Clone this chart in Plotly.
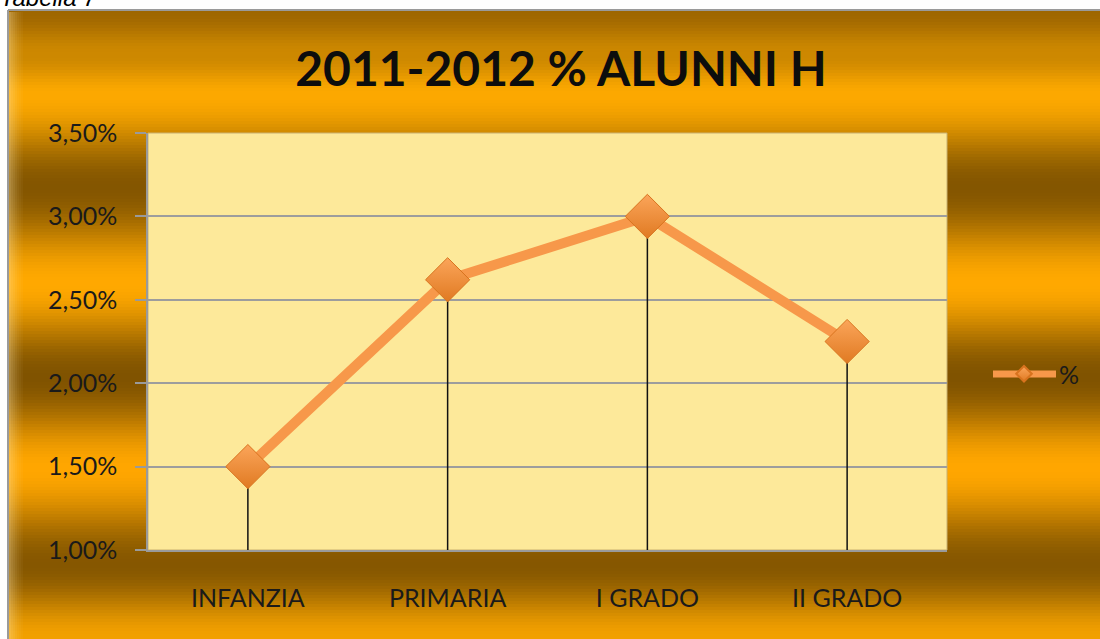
import math
import plotly.graph_objects as go

# ---- data ----
categories = ["INFANZIA", "PRIMARIA", "I GRADO", "II GRADO"]
values = [0.0150, 0.0262, 0.0300, 0.0225]
y_tick_vals = [0.010, 0.015, 0.020, 0.025, 0.030, 0.035]
series_name = "%"
title_text = "2011-2012 % ALUNNI H"
caption_text = "Tabella 7"
y_min, y_max = 0.010, 0.035

# ---- layout geometry (pixels) ----
W, H = 1100, 639
L, R, T, B = 148, 947, 133, 550


def px2x(px):
    return (px - L) / (R - L)


def px2y(py):
    return (B - py) / (B - T)


# background gradient stops (pixel y, rgb)
stops = [
    (10, (158, 102, 0)),
    (55, (205, 136, 0)),
    (95, (252, 168, 0)),
    (187, (132, 86, 0)),
    (283, (255, 168, 0)),
    (377, (128, 83, 0)),
    (468, (255, 166, 0)),
    (565, (134, 87, 0)),
    (639, (242, 160, 0)),
]


def grad_color(y):
    for (y0, c0), (y1, c1) in zip(stops[:-1], stops[1:]):
        if y0 <= y <= y1:
            t = (y - y0) / (y1 - y0)
            t = (1 - math.cos(math.pi * t)) / 2
            c = [round(a + (b - a) * t) for a, b in zip(c0, c1)]
            return "rgb(%d,%d,%d)" % tuple(c)
    return "rgb(%d,%d,%d)" % stops[-1][1]


shapes = []
FX0 = 8
step = 3
y = 10
while y < H:
    y2 = min(y + step, H)
    shapes.append(dict(type="rect", xref="paper", yref="paper",
                       x0=px2x(FX0), x1=px2x(W + 2), y0=px2y(y2 + 0.5), y1=px2y(y),
                       fillcolor=grad_color(y + step / 2), line=dict(width=0), layer="below"))
    y = y2

# left bevel highlight
for i, op in enumerate([0.35, 0.28, 0.22, 0.16, 0.11, 0.07, 0.04]):
    shapes.append(dict(type="rect", xref="paper", yref="paper",
                       x0=px2x(FX0 + 1 + 2 * i), x1=px2x(FX0 + 3 + 2 * i),
                       y0=px2y(H + 2), y1=px2y(12),
                       fillcolor="rgba(255,235,180,%.2f)" % op, line=dict(width=0), layer="below"))
# frame border
shapes.append(dict(type="line", xref="paper", yref="paper",
                   x0=px2x(FX0), x1=px2x(FX0), y0=px2y(H + 2), y1=px2y(10),
                   line=dict(color="#9a9a9a", width=2), layer="below"))
shapes.append(dict(type="line", xref="paper", yref="paper",
                   x0=px2x(FX0), x1=px2x(W + 2), y0=px2y(10), y1=px2y(10),
                   line=dict(color="#9a9a9a", width=2), layer="below"))
# plot area fill
shapes.append(dict(type="rect", xref="paper", yref="paper",
                   x0=0, x1=1, y0=0, y1=1,
                   fillcolor="#FDE99A", line=dict(color="#C8B070", width=1), layer="below"))
# legend line extension (legend swatch is short in plotly)
shapes.append(dict(type="line", xref="paper", yref="paper",
                   x0=px2x(993), x1=px2x(1056), y0=px2y(374), y1=px2y(374),
                   line=dict(color="#F7984A", width=7), layer="above"))

fig = go.Figure()
fig.add_trace(go.Scatter(
    x=categories, y=values, name=series_name, mode="lines+markers",
    line=dict(color="#F7984A", width=10),
    marker=dict(symbol="diamond", size=34, color="#FBA55A",
                gradient=dict(type="vertical", color="#E07A22"),
                line=dict(color="#D8731E", width=1)),
    error_y=dict(type="data", symmetric=False,
                 array=[0] * len(values),
                 arrayminus=[v - y_min for v in values],
                 color="#111111", thickness=1.5, width=0),
    cliponaxis=False,
))

fig.update_layout(
    width=W, height=H,
    margin=dict(l=L, r=W - R, t=T, b=H - B, pad=0),
    paper_bgcolor="white",
    plot_bgcolor="rgba(0,0,0,0)",
    separators=",.",
    shapes=shapes,
    showlegend=True,
    title=dict(text=title_text, x=561 / W, xref="container", xanchor="center",
               y=1 - 69 / H, yref="container", yanchor="middle",
               font=dict(family="Lato", size=48, color="#0d0d0d", weight=700)),
    legend=dict(x=px2x(989), xanchor="left", y=px2y(374), yanchor="middle",
                bgcolor="rgba(0,0,0,0)", borderwidth=0, itemwidth=60,
                font=dict(family="Lato", size=25, color="#1a1a1a"),
                itemsizing="constant"),
    xaxis=dict(type="category", range=[-0.5, len(categories) - 0.5],
               showgrid=False, zeroline=False, showline=True,
               linecolor="#9a9a9a", linewidth=1.5, ticks="",
               tickfont=dict(family="Lato", size=25, color="#1a1a1a"),
               ticklabelstandoff=25),
    yaxis=dict(range=[y_min, y_max], tickvals=y_tick_vals, tickformat=".2%",
               showgrid=True, gridcolor="#9d9d9d", gridwidth=1.5,
               zeroline=False, showline=True, linecolor="#9a9a9a", linewidth=1.5,
               ticks="outside", ticklen=11, tickwidth=1.5, tickcolor="#9a9a9a",
               tickfont=dict(family="Lato", size=25, color="#1a1a1a"),
               ticklabelstandoff=13),
    annotations=[dict(text="<i>" + caption_text + "</i>", xref="paper", yref="paper",
                      x=px2x(-2), y=px2y(13), xanchor="left", yanchor="bottom",
                      showarrow=False,
                      font=dict(family="Liberation Sans", size=24, color="black"))],
)

fig.write_html("out.html", config={"displayModeBar": False},
               post_script="document.body.style.margin='0px';document.body.style.overflow='hidden';")
